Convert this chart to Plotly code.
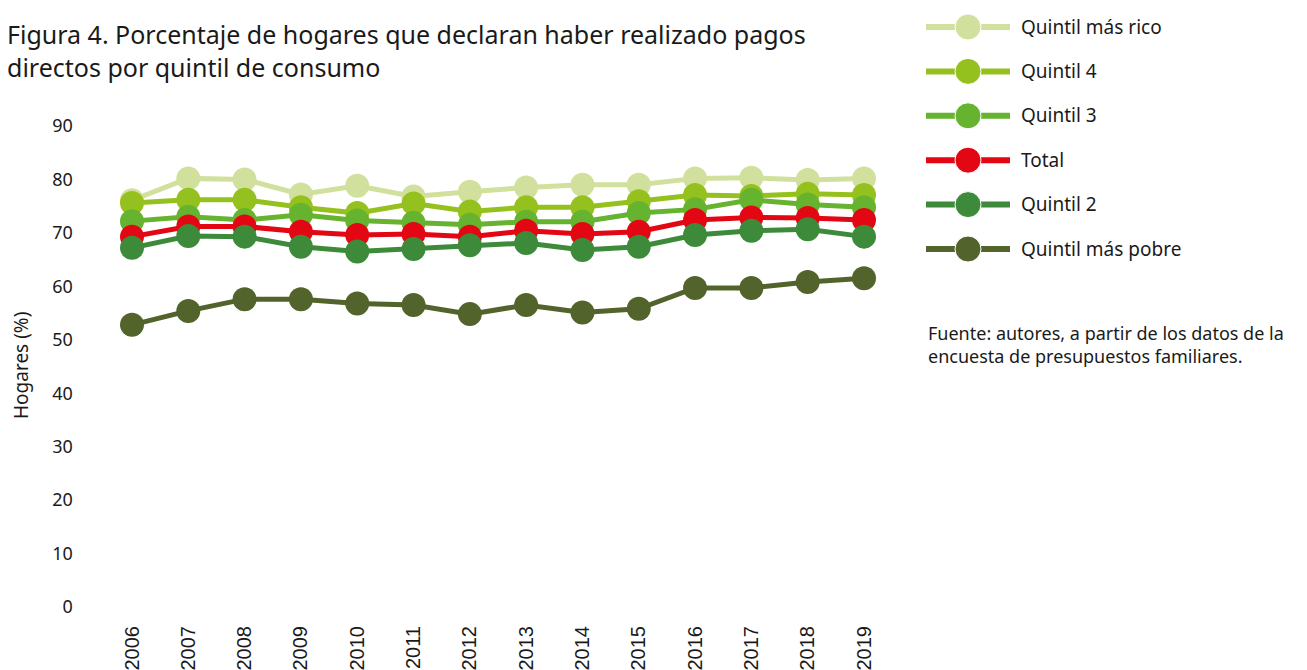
import plotly.graph_objects as go

# data
years = list(range(2006, 2020))
series_names = ["Quintil más rico", "Quintil 4", "Quintil 3", "Total",
                "Quintil 2", "Quintil más pobre"]
rico = [76.1, 80.2, 80.0, 77.2, 78.8, 76.8, 77.7, 78.5, 79.0, 79.0, 80.2, 80.3, 79.9, 80.2]
q4 = [75.6, 76.2, 76.2, 74.8, 73.7, 75.5, 74.0, 74.8, 74.8, 75.9, 77.1, 76.9, 77.3, 77.1]
q3 = [72.2, 73.0, 72.4, 73.4, 72.3, 71.9, 71.5, 72.1, 72.1, 73.7, 74.4, 76.2, 75.3, 74.8]
total = [69.3, 71.2, 71.2, 70.2, 69.6, 69.8, 69.3, 70.4, 69.8, 70.2, 72.4, 72.9, 72.8, 72.4]
q2 = [67.2, 69.4, 69.3, 67.4, 66.5, 67.0, 67.7, 68.1, 66.8, 67.4, 69.6, 70.4, 70.7, 69.3]
pobre = [52.8, 55.4, 57.6, 57.6, 56.8, 56.5, 54.8, 56.5, 55.1, 55.8, 59.7, 59.7, 60.8, 61.5]
y_ticks = [0, 10, 20, 30, 40, 50, 60, 70, 80, 90]

series = [rico, q4, q3, total, q2, pobre]
colors = ["#d1e19d", "#95c11f", "#65b32e", "#e30613", "#3c8a3a", "#52632b"]

W, H = 1307, 670
OFF = 8  # page body margin, compensated so the figure lands where the original sits
FONT = "Noto Sans"
TXT = "#1a1a1a"


def px_x(p):
    return (p - OFF) / W


def px_y(p):
    return min(1.0, (H - (p - OFF)) / H)


fig = go.Figure()

for name, vals, col in zip(series_names, series, colors):
    fig.add_trace(go.Scatter(
        x=years, y=vals, mode="lines+markers", name=name,
        line=dict(color=col, width=5),
        marker=dict(size=24, color=col, opacity=1),
        showlegend=False, xaxis="x", yaxis="y",
    ))

# hand-made legend in its own little subplot (big swatches like the original)
for name, col in zip(series_names, colors):
    fig.add_trace(go.Scatter(
        x=[0, 1, 2], y=[name] * 3, mode="lines+markers",
        line=dict(color=col, width=6),
        marker=dict(size=[0, 26, 0], color=col, opacity=1),
        showlegend=False, hoverinfo="skip", xaxis="x2", yaxis="y2",
    ))

fig.update_layout(
    width=W, height=H,
    paper_bgcolor="white", plot_bgcolor="white",
    margin=dict(l=0, r=0, t=0, b=0, autoexpand=False),
    font=dict(family=FONT, color=TXT),
    xaxis=dict(
        domain=[px_x(103.85), px_x(892.15)],
        range=[2005.5, 2019.5], automargin=False,
        tickmode="array", tickvals=years, ticktext=[str(y) for y in years],
        tickangle=-90, showgrid=False, zeroline=False, showline=False,
        tickfont=dict(family="Liberation Sans", size=20, color=TXT),
        ticklabelstandoff=14,
    ),
    yaxis=dict(
        domain=[px_y(607), px_y(126)],
        range=[0, 90], automargin=False,
        tickvals=y_ticks, showgrid=False, zeroline=False, showline=False,
        tickfont=dict(family=FONT, size=18, color=TXT),
        ticklabelstandoff=30,
    ),
    xaxis2=dict(
        domain=[px_x(926), px_x(1010)], range=[0, 2], anchor="y2",
        visible=False, fixedrange=True, automargin=False,
    ),
    yaxis2=dict(
        domain=[px_y(271.2), px_y(8)], anchor="x2", side="right",
        type="category", categoryorder="array", categoryarray=series_names,
        range=[5.5, -0.428], showgrid=False, zeroline=False, showline=False,
        automargin=False,
        tickfont=dict(family=FONT, size=19, color=TXT),
        ticklabelstandoff=10,
    ),
    annotations=[
        dict(text="Figura 4. Porcentaje de hogares que declaran haber realizado pagos<br>"
                  "directos por quintil de consumo",
             x=px_x(5), y=px_y(50.5), xref="paper", yref="paper",
             xanchor="left", yanchor="middle", align="left", showarrow=False,
             font=dict(family=FONT, size=25, color=TXT)),
        dict(text="Hogares (%)", textangle=-90, borderpad=0,
             x=px_x(21), y=px_y(366), xref="paper", yref="paper",
             xanchor="center", yanchor="middle", showarrow=False,
             font=dict(family=FONT, size=19, color=TXT)),
        dict(text="Fuente: autores, a partir de los datos de la<br>"
                  "encuesta de presupuestos familiares.",
             x=px_x(926), y=px_y(345), xref="paper", yref="paper",
             xanchor="left", yanchor="middle", align="left", showarrow=False,
             font=dict(family=FONT, size=18, color=TXT)),
    ],
)

fig.write_html("out.html")
